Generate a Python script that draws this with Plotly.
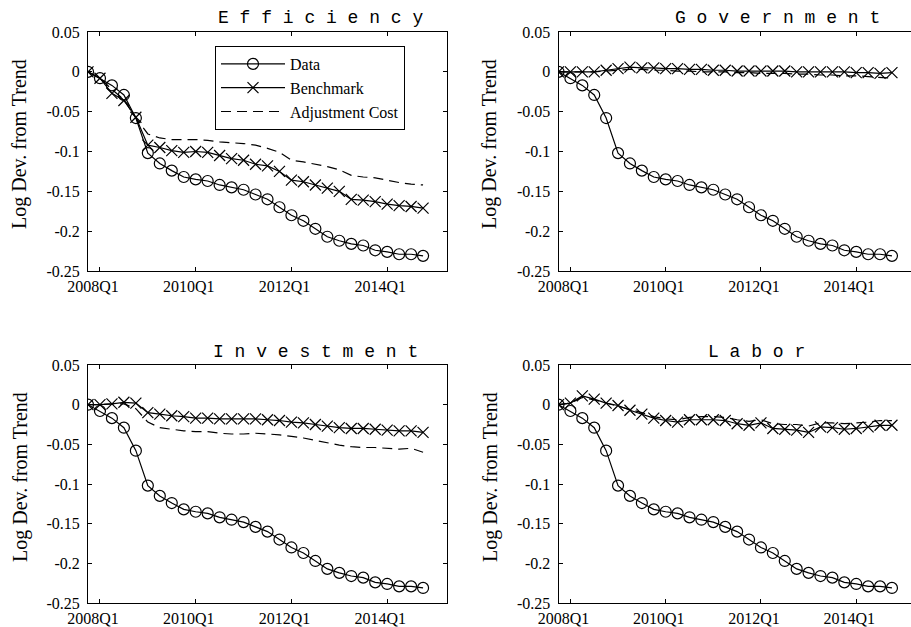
import plotly.graph_objects as go

quarters = list(range(29))  # 2007Q4 ... 2014Q4 as quarter index
x_tickvals = [1, 9, 17, 25]
x_ticktext = ["2008Q1", "2010Q1", "2012Q1", "2014Q1"]
y_tickvals = [0.05, 0, -0.05, -0.1, -0.15, -0.2, -0.25]
y_ticktext = ["0.05", "0", "-0.05", "-0.1", "-0.15", "-0.2", "-0.25"]

data = [0, -0.008, -0.017, -0.029, -0.058, -0.102, -0.115, -0.124, -0.132, -0.135,
        -0.137, -0.142, -0.145, -0.148, -0.154, -0.160, -0.170, -0.180, -0.187, -0.197,
        -0.207, -0.212, -0.216, -0.218, -0.224, -0.226, -0.229, -0.229, -0.231]

eff_bench = [0, -0.008, -0.027, -0.036, -0.057, -0.092, -0.095, -0.099, -0.101, -0.100,
             -0.101, -0.105, -0.109, -0.111, -0.116, -0.118, -0.125, -0.136, -0.138, -0.142,
             -0.146, -0.150, -0.160, -0.161, -0.163, -0.166, -0.168, -0.169, -0.171]
eff_adj = [0, -0.008, -0.022, -0.035, -0.058, -0.078, -0.083, -0.085, -0.085, -0.085,
           -0.086, -0.088, -0.089, -0.090, -0.092, -0.096, -0.101, -0.111, -0.113, -0.116,
           -0.119, -0.123, -0.130, -0.132, -0.133, -0.136, -0.139, -0.141, -0.142]

gov_bench = [0, 0, 0, 0, 0.002, 0.004, 0.006, 0.005, 0.005, 0.004,
             0.004, 0.003, 0.003, 0.002, 0.002, 0.001, 0.001, 0.001, 0.001, 0.001,
             0.000, 0.000, 0.000, 0.000, 0.000, -0.001, -0.001, -0.002, -0.001]
gov_adj = [0, 0, 0, 0, 0.001, 0.002, 0.003, 0.003, 0.002, 0.002,
           0.001, 0.001, 0.000, 0.000, 0.000, -0.001, -0.001, -0.002, -0.002, -0.002,
           -0.003, -0.003, -0.004, -0.004, -0.005, -0.005, -0.006, -0.007, -0.008]

inv_bench = [0, 0, 0.001, 0.003, 0.002, -0.010, -0.012, -0.014, -0.015, -0.017,
             -0.017, -0.018, -0.018, -0.018, -0.018, -0.019, -0.020, -0.022, -0.023, -0.025,
             -0.027, -0.029, -0.030, -0.030, -0.031, -0.032, -0.033, -0.033, -0.035]
inv_adj = [0, 0, 0.001, 0.001, -0.005, -0.022, -0.029, -0.031, -0.033, -0.034,
           -0.034, -0.036, -0.037, -0.037, -0.036, -0.037, -0.038, -0.040, -0.042, -0.045,
           -0.048, -0.051, -0.053, -0.054, -0.054, -0.055, -0.056, -0.055, -0.060]

lab_bench = [0, 0.002, 0.011, 0.007, 0.002, -0.001, -0.007, -0.012, -0.017, -0.020,
             -0.022, -0.019, -0.019, -0.019, -0.020, -0.024, -0.026, -0.023, -0.030, -0.031,
             -0.032, -0.035, -0.028, -0.029, -0.031, -0.030, -0.028, -0.026, -0.026]
lab_adj = [0, 0.002, 0.009, 0.006, 0.002, -0.002, -0.006, -0.010, -0.015, -0.018,
           -0.019, -0.016, -0.015, -0.015, -0.016, -0.019, -0.021, -0.019, -0.024, -0.025,
           -0.025, -0.027, -0.023, -0.023, -0.024, -0.023, -0.022, -0.020, -0.020]

panels = [
    ("E f f i c i e n c y", eff_bench, eff_adj),
    ("G o v e r n m e n t", gov_bench, gov_adj),
    ("I n v e s t m e n t", inv_bench, inv_adj),
    ("L a b o r", lab_bench, lab_adj),
]

W, H = 911, 627
# pixel boxes of the four axes: (left, right, top, bottom)
boxes = [(88, 447, 32, 271), (558.5, 911, 32, 271), (88, 447, 365, 603), (558.5, 911, 365, 603)]
xranges = [[0, 30], [0, 29.6], [0, 30], [0, 29.6]]
title_pos = [(320, 18), (777, 18), (315, 352), (756, 352)]
ylab_pos = [(20, 144), (490, 144), (20, 477), (490, 477)]

fig = go.Figure()
black = "#000000"
serif = "Liberation Serif"

for k, (title, bench, adj) in enumerate(panels):
    xa = "x" if k == 0 else f"x{k+1}"
    ya = "y" if k == 0 else f"y{k+1}"
    show = (k == 0)
    fig.add_trace(go.Scatter(x=quarters, y=data, xaxis=xa, yaxis=ya, name="Data",
                             mode="lines+markers", showlegend=show,
                             line=dict(color=black, width=1.2),
                             marker=dict(symbol="circle-open", size=11, color=black,
                                         line=dict(width=1.2, color=black))))
    fig.add_trace(go.Scatter(x=quarters, y=bench, xaxis=xa, yaxis=ya, name="Benchmark",
                             mode="lines+markers", showlegend=show,
                             line=dict(color=black, width=1.2),
                             marker=dict(symbol="x-thin-open", size=11, color=black,
                                         line=dict(width=1.2, color=black))))
    fig.add_trace(go.Scatter(x=quarters, y=adj, xaxis=xa, yaxis=ya, name="Adjustment Cost",
                             mode="lines", showlegend=show,
                             line=dict(color=black, width=1.2, dash="10px,6px")))

    l, r, t, b = boxes[k]
    right_panel = k in (1, 3)
    xkey = "xaxis" if k == 0 else f"xaxis{k+1}"
    ykey = "yaxis" if k == 0 else f"yaxis{k+1}"
    fig.layout[xkey] = dict(
        domain=[l / W, r / W], anchor=ya, range=xranges[k], automargin=False,
        tickvals=x_tickvals, ticktext=x_ticktext, ticks="inside", ticklen=4,
        tickcolor=black, showline=True, linecolor=black, linewidth=1,
        mirror="ticks", showgrid=False, zeroline=False,
        tickfont=dict(family=serif, size=16, color=black), ticklabelshift=-7,
        ticklabelstandoff=1)
    fig.layout[ykey] = dict(
        domain=[1 - b / H, 1 - t / H], anchor=xa, range=[-0.25, 0.05], automargin=False,
        tickvals=y_tickvals, ticktext=y_ticktext, ticks="inside", ticklen=4,
        tickcolor=black, showline=True, linecolor=black, linewidth=1,
        mirror=False if right_panel else "ticks", showgrid=False, zeroline=False,
        tickfont=dict(family=serif, size=16, color=black), ticklabelstandoff=4)

    tx, ty = title_pos[k]
    fig.add_annotation(x=tx / W, y=1 - ty / H, xref="paper", yref="paper",
                       text=title, showarrow=False, xanchor="center", yanchor="middle",
                       font=dict(family="Liberation Mono", size=18, color=black))
    lx, ly = ylab_pos[k]
    fig.add_annotation(x=lx / W, y=1 - ly / H, xref="paper", yref="paper",
                       text="Log Dev. from Trend", showarrow=False, textangle=-90,
                       xanchor="center", yanchor="middle",
                       font=dict(family=serif, size=20, color=black))

fig.update_layout(
    width=W, height=H, margin=dict(l=0, r=0, t=0, b=0, autoexpand=False),
    paper_bgcolor="white", plot_bgcolor="white",
    font=dict(family=serif, size=16, color=black),
    legend=dict(x=215 / W, y=1 - 46 / H, xanchor="left", yanchor="top",
                bgcolor="white", bordercolor=black, borderwidth=1,
                font=dict(family=serif, size=16, color=black),
                itemwidth=64, tracegroupgap=0),
)

fig.write_html("out.html")
